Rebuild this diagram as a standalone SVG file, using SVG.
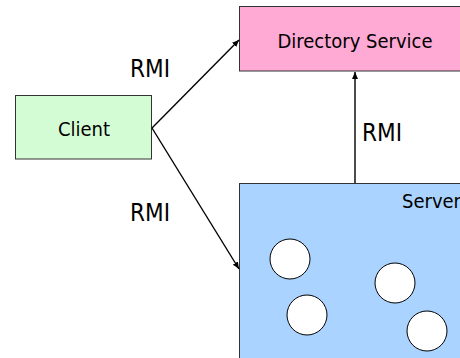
<svg xmlns="http://www.w3.org/2000/svg" width="460" height="358" viewBox="0 0 460 358">
<style>
text{font-family:"DejaVu Sans Condensed","DejaVu Sans",Verdana,sans-serif;fill:#000}
.lbl{font-size:24px}
.nt{font-size:20px}
.box{stroke:#333;stroke-width:1}
.obj{fill:#fff;stroke:#000;stroke-width:1}
.c{stroke:#000;stroke-width:1.4;fill:none;marker-end:url(#ah)}
</style>
<defs>
<marker id="ah" viewBox="0 0 10 10" refX="10" refY="5" markerWidth="7" markerHeight="6" orient="auto" markerUnits="userSpaceOnUse" preserveAspectRatio="none"><path d="M0,0 L10,5 L0,10 z" fill="#000"/></marker>
</defs>
<rect width="460" height="358" fill="#fff"/>
<g id="directory">
<rect class="box" x="239.5" y="6.5" width="230" height="64.5" fill="#ffaad4"/>
<text class="nt" x="355" y="48" text-anchor="middle">Directory Service</text>
</g>
<g id="client">
<rect class="box" x="15.5" y="95.5" width="136" height="63.5" fill="#d4fcd4"/>
<text class="nt" x="84" y="136" text-anchor="middle">Client</text>
</g>
<g id="server">
<rect class="box" x="239.5" y="183.5" width="230" height="190" fill="#aad4ff"/>
<text class="nt" x="402" y="208">Server</text>
<circle class="obj" cx="290" cy="259" r="20"/>
<circle class="obj" cx="307" cy="315" r="20"/>
<circle class="obj" cx="395" cy="283" r="20"/>
<circle class="obj" cx="427" cy="331" r="20"/>
</g>
<g id="connectors">
<line class="c" x1="152" y1="128" x2="239" y2="40"/>
<line class="c" x1="152" y1="128" x2="239" y2="269"/>
<line class="c" x1="355" y1="183" x2="355" y2="72"/>
<text class="lbl" x="130" y="77">RMI</text>
<text class="lbl" x="362" y="141">RMI</text>
<text class="lbl" x="130" y="221">RMI</text>
</g>
</svg>
